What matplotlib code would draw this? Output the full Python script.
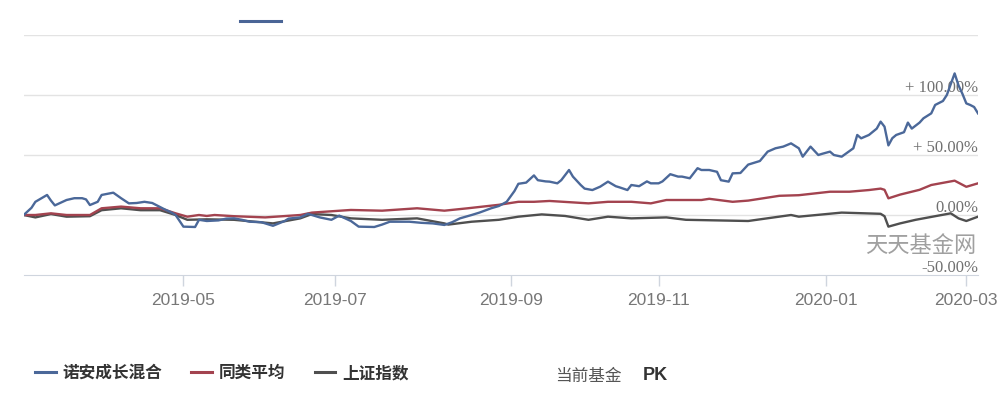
import numpy as np
import matplotlib
matplotlib.use("Agg")
import matplotlib.pyplot as plt
from matplotlib.lines import Line2D

plt.rcParams['font.family'] = ['Noto Sans CJK SC', 'DejaVu Sans']

# trading-day axis (A-share calendar)
START = "2019-03-04"
END = "2020-03-05"
HOLIDAYS = ["2019-04-05", "2019-05-01", "2019-05-02", "2019-05-03", "2019-06-07",
            "2019-09-13", "2019-10-01", "2019-10-02", "2019-10-03", "2019-10-04",
            "2019-10-07", "2020-01-01", "2020-01-24", "2020-01-27", "2020-01-28",
            "2020-01-29", "2020-01-30", "2020-01-31"]

# 诺安成长混合 (%)
fund_dates = [
    "2019-03-04", "2019-03-06", "2019-03-07", "2019-03-12", "2019-03-13", "2019-03-14", "2019-03-18",
    "2019-03-19", "2019-03-21", "2019-03-25", "2019-03-26", "2019-03-27", "2019-03-29",
    "2019-04-01", "2019-04-04", "2019-04-09", "2019-04-11", "2019-04-15", "2019-04-17", "2019-04-19",
    "2019-04-22", "2019-04-24", "2019-04-26", "2019-04-29",
    "2019-05-06", "2019-05-09", "2019-05-10", "2019-05-14", "2019-05-17", "2019-05-21", "2019-05-23",
    "2019-05-27", "2019-05-29",
    "2019-06-03", "2019-06-06", "2019-06-12", "2019-06-13", "2019-06-18", "2019-06-20", "2019-06-25",
    "2019-06-28",
    "2019-07-02", "2019-07-05", "2019-07-09", "2019-07-15", "2019-07-17", "2019-07-19", "2019-07-24",
    "2019-07-26", "2019-07-31",
    "2019-08-05", "2019-08-08", "2019-08-12", "2019-08-14", "2019-08-19", "2019-08-21", "2019-08-26",
    "2019-08-28", "2019-08-30",
    "2019-09-03", "2019-09-04", "2019-09-06", "2019-09-10", "2019-09-11", "2019-09-16", "2019-09-17",
    "2019-09-19", "2019-09-20", "2019-09-24", "2019-09-25", "2019-09-27", "2019-09-30",
    "2019-10-09", "2019-10-11", "2019-10-15", "2019-10-17", "2019-10-18", "2019-10-22", "2019-10-23",
    "2019-10-25", "2019-10-29", "2019-10-30",
    "2019-11-01", "2019-11-04", "2019-11-06", "2019-11-08", "2019-11-11", "2019-11-13", "2019-11-15",
    "2019-11-18", "2019-11-20", "2019-11-22", "2019-11-25", "2019-11-27", "2019-11-28",
    "2019-12-02", "2019-12-04", "2019-12-05", "2019-12-09", "2019-12-11", "2019-12-13", "2019-12-17",
    "2019-12-19", "2019-12-23", "2019-12-24", "2019-12-26", "2019-12-30", "2019-12-31",
    "2020-01-03", "2020-01-06", "2020-01-08", "2020-01-13", "2020-01-14", "2020-01-15", "2020-01-17",
    "2020-01-21", "2020-01-22", "2020-01-23",
    "2020-02-03", "2020-02-04", "2020-02-05", "2020-02-07", "2020-02-10", "2020-02-11", "2020-02-13",
    "2020-02-14", "2020-02-18", "2020-02-19", "2020-02-21", "2020-02-24", "2020-02-25", "2020-02-26",
    "2020-02-27", "2020-02-28",
    "2020-03-02", "2020-03-03", "2020-03-04", "2020-03-05"]
fund_values = [
    0, 6, 11, 16.7, 12, 8, 11, 12.5, 14, 14, 13, 8.3, 11,
    16.7, 18.6, 14, 9.7, 10, 11, 10, 8.3, 5, 2, 0,
    -9.7, -10, -4, -5, -4.5, -3, -2.8, -4, -5.6,
    -6, -9, -5, -3, -2, 1, -2, -4,
    -0.5, -5, -9.7, -10, -8, -5.6, -5.6, -5.6, -6.5,
    -7, -8.3, -6, -2.8, 0, 2, 5.6, 7.5, 11,
    20, 26, 27, 33, 29, 28, 27.8, 26.4, 29, 37.5, 32, 25, 22,
    20.8, 23.6, 27.8, 24, 23, 20.8, 25, 24, 28, 26.4,
    26.4, 28, 34, 32, 32, 30.6, 39, 37.5, 37.5, 36, 29, 27.8, 34.7,
    35, 42, 43, 45, 52.8, 55.6, 57, 59.7, 55.6, 48.6, 57, 50, 51,
    52.8, 50, 48.6, 55.6, 66.7, 63.9, 66.7, 72, 77.8, 73.6,
    58, 64, 66.7, 69, 77, 72, 77, 80.6, 84.7, 91.7, 95, 100, 109, 118, 108, 101,
    93, 91.7, 90, 84.7]

# 同类平均 (%)
peer_dates = [
    "2019-03-04", "2019-03-07", "2019-03-13", "2019-03-19", "2019-03-27", "2019-04-01", "2019-04-09",
    "2019-04-16", "2019-04-23", "2019-04-29", "2019-05-07", "2019-05-10", "2019-05-14", "2019-05-16",
    "2019-05-23", "2019-06-04", "2019-06-18", "2019-06-21", "2019-07-05", "2019-07-17", "2019-07-30",
    "2019-08-08", "2019-08-16", "2019-08-28", "2019-09-04", "2019-09-10", "2019-09-17", "2019-10-08",
    "2019-10-15", "2019-10-23", "2019-10-30", "2019-11-05", "2019-11-18", "2019-11-20", "2019-11-28",
    "2019-12-04", "2019-12-16", "2019-12-23", "2020-01-03", "2020-01-10", "2020-01-17", "2020-01-22",
    "2020-01-23", "2020-02-03", "2020-02-06", "2020-02-13", "2020-02-18", "2020-02-26", "2020-03-02",
    "2020-03-05"]
peer_values = [
    0, 0, 1.4, 0, 0, 5.6, 7, 5.6, 5.6, 1.4, -1.4, 0, -0.8, 0,
    -1, -2, 0, 2, 4.2, 3.6, 5.6, 3.6, 5.6, 8.5, 11, 11, 11.7, 9.7,
    11, 11, 9.7, 12.5, 12.5, 13.5, 11, 12, 16, 16.5, 19.4, 19.4, 20.8, 22,
    21, 13.9, 17, 21, 25, 28.6, 23.5, 26.4]

# 上证指数 (%)
index_dates = [
    "2019-03-04", "2019-03-07", "2019-03-13", "2019-03-19", "2019-03-27", "2019-04-01", "2019-04-09",
    "2019-04-16", "2019-04-23", "2019-04-29", "2019-05-07", "2019-05-14", "2019-05-23", "2019-06-06",
    "2019-06-18", "2019-06-21", "2019-06-28", "2019-07-05", "2019-07-17", "2019-07-30", "2019-08-08",
    "2019-08-09", "2019-08-19", "2019-08-28", "2019-09-04", "2019-09-12", "2019-09-23", "2019-10-08",
    "2019-10-15", "2019-10-23", "2019-11-05", "2019-11-12", "2019-11-22", "2019-12-04", "2019-12-19",
    "2019-12-23", "2020-01-08", "2020-01-22", "2020-01-23", "2020-02-03", "2020-02-06", "2020-02-12",
    "2020-02-25", "2020-02-27", "2020-03-02", "2020-03-05"]
index_values = [
    0, -2, 0.8, -1.4, -1, 4, 5.6, 4, 4, 0, -4, -3.6, -4, -7,
    -2.8, 0.8, 0, -2.8, -4, -2.8, -7, -8, -5.6, -4, -1.4, 0.5, -0.8, -4,
    -1.4, -2.8, -2, -4, -4.5, -5, 0, -1.4, 2, 1, -1, -9.7, -7, -4,
    1.4, -2.8, -5, -1.4]

tick_dates = ["2019-05-06", "2019-07-01", "2019-09-02", "2019-11-01", "2020-01-02", "2020-03-02"]
tick_labels = ["2019-05", "2019-07", "2019-09", "2019-11", "2020-01", "2020-03"]
grid_levels = [0, 50, 100, 150]
level_labels = {100: "+ 100.00%", 50: "+ 50.00%", 0: "0.00%", -50: "-50.00%"}

series_names = ["诺安成长混合", "同类平均", "上证指数"]
series_colors = ["#4b6899", "#a3434f", "#4f4f4f"]


def tday(dates):
    d = np.array(dates, dtype="datetime64[D]")
    return np.busday_count(np.datetime64(START), d, holidays=HOLIDAYS)


fig = plt.figure(figsize=(10, 4.01), dpi=100)
ax = fig.add_axes([0.0237, 1 - 275 / 401, 0.9543, 240 / 401])

for lv in grid_levels:
    ax.axhline(lv, color="#e3e3e3", lw=1, zorder=0)

ax.plot(tday(index_dates), index_values, color=series_colors[2], lw=1.7, zorder=2)
ax.plot(tday(peer_dates), peer_values, color=series_colors[1], lw=1.7, zorder=3)
ax.plot(tday(fund_dates), fund_values, color=series_colors[0], lw=1.7, zorder=4)

ax.set_xlim(0, tday([END])[0])
ax.set_ylim(-50, 150)

for s in ["top", "left", "right"]:
    ax.spines[s].set_visible(False)
ax.spines["bottom"].set_color("#cfd5de")
ax.set_yticks([])
ax.set_xticks(tday(tick_dates))
ax.set_xticklabels(tick_labels, family="Liberation Sans")
ax.tick_params(axis="x", length=8, width=1, color="#cfd5de", pad=5,
               labelsize=12.5, labelcolor="#777777")

for lv, txt in level_labels.items():
    ax.annotate(txt, xy=(1.0, lv), xycoords=("axes fraction", "data"),
                xytext=(0, 2), textcoords="offset points",
                ha="right", va="baseline", fontsize=12,
                family="Liberation Serif", color="#707070")

# 水印
ax.text(0.998, -25, "天天基金网", ha="right", va="center", fontsize=16,
        color="#a0a0a0", transform=ax.get_yaxis_transform())

# 顶部残留图例线
fig.add_artist(Line2D([0.240, 0.281], [1 - 20.5 / 401] * 2, color="#4a6596", lw=2.2))

# 底部图例
handles = [Line2D([], [], color=c, lw=2.2) for c in series_colors]
fig.legend(handles, series_names, loc="center left",
           bbox_to_anchor=(0.035, 1 - 373 / 401), ncol=3, frameon=False,
           handlelength=1.25, handletextpad=0.4, columnspacing=1.75,
           borderpad=0, borderaxespad=0,
           prop={"family": ["Noto Sans CJK SC"], "weight": "bold", "size": 12},
           labelcolor="#333333")

fig.text(0.555, 1 - 376 / 401, "当前基金", ha="left", va="center", fontsize=12,
         color="#555555")
fig.text(0.643, 1 - 376 / 401, "PK", ha="left", va="center", fontsize=13,
         weight="bold", family="Liberation Sans", color="#333333")

fig.savefig("out.png", dpi=100, facecolor="white")
